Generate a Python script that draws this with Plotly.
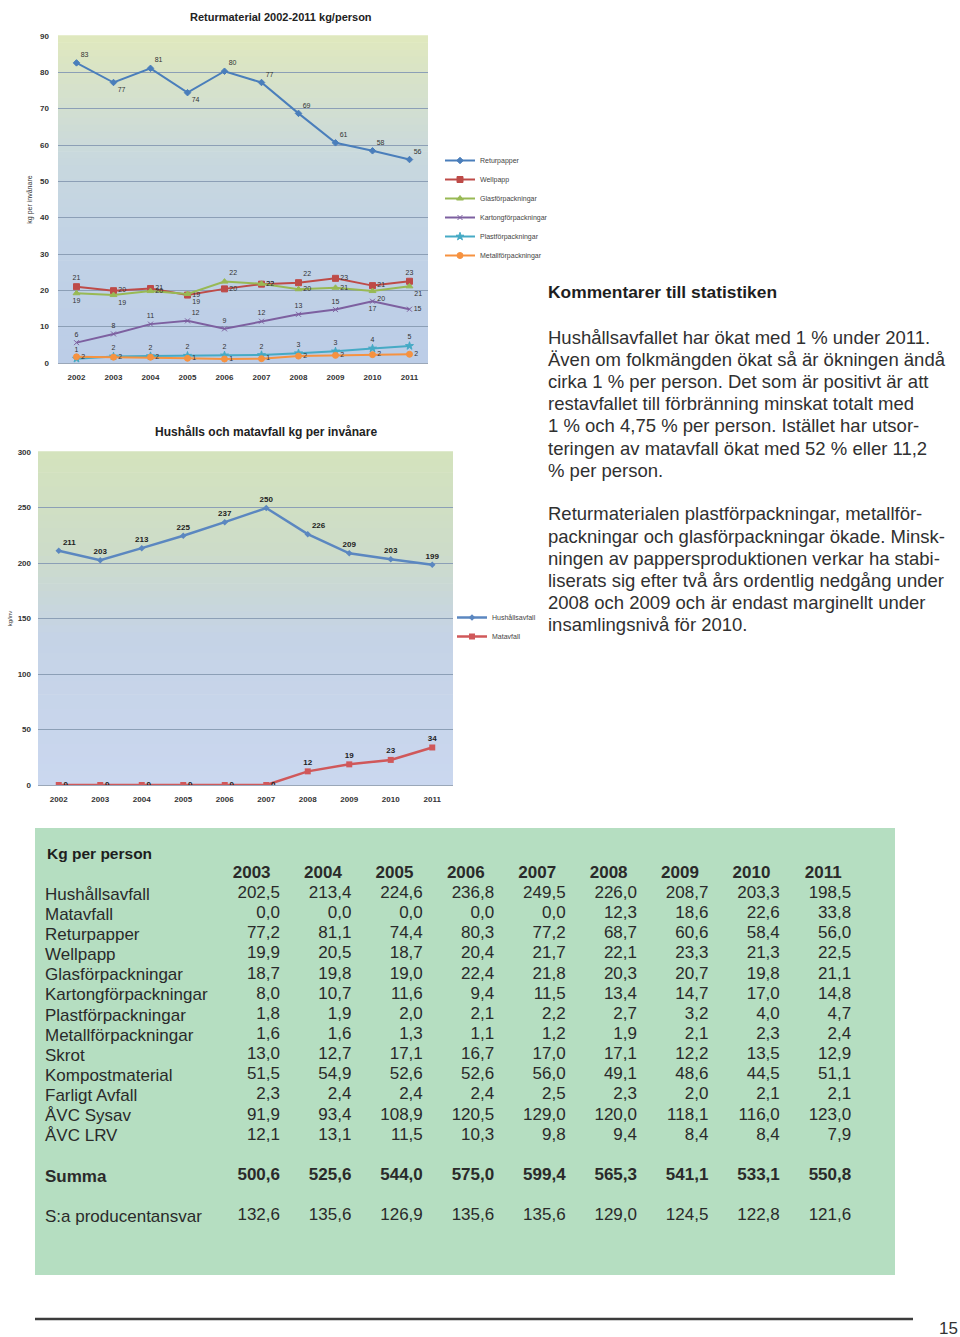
import plotly.graph_objects as go

# ---------------- data ----------------
years = ["2002", "2003", "2004", "2005", "2006", "2007", "2008", "2009", "2010", "2011"]
table_years = ["2003", "2004", "2005", "2006", "2007", "2008", "2009", "2010", "2011"]

t_hushall = [202.5, 213.4, 224.6, 236.8, 249.5, 226.0, 208.7, 203.3, 198.5]
t_matavfall = [0.0, 0.0, 0.0, 0.0, 0.0, 12.3, 18.6, 22.6, 33.8]
t_returpapper = [77.2, 81.1, 74.4, 80.3, 77.2, 68.7, 60.6, 58.4, 56.0]
t_wellpapp = [19.9, 20.5, 18.7, 20.4, 21.7, 22.1, 23.3, 21.3, 22.5]
t_glas = [18.7, 19.8, 19.0, 22.4, 21.8, 20.3, 20.7, 19.8, 21.1]
t_kartong = [8.0, 10.7, 11.6, 9.4, 11.5, 13.4, 14.7, 17.0, 14.8]
t_plast = [1.8, 1.9, 2.0, 2.1, 2.2, 2.7, 3.2, 4.0, 4.7]
t_metall = [1.6, 1.6, 1.3, 1.1, 1.2, 1.9, 2.1, 2.3, 2.4]
t_skrot = [13.0, 12.7, 17.1, 16.7, 17.0, 17.1, 12.2, 13.5, 12.9]
t_kompost = [51.5, 54.9, 52.6, 52.6, 56.0, 49.1, 48.6, 44.5, 51.1]
t_farligt = [2.3, 2.4, 2.4, 2.4, 2.5, 2.3, 2.0, 2.1, 2.1]
t_avc_sysav = [91.9, 93.4, 108.9, 120.5, 129.0, 120.0, 118.1, 116.0, 123.0]
t_avc_lrv = [12.1, 13.1, 11.5, 10.3, 9.8, 9.4, 8.4, 8.4, 7.9]
t_summa = [500.6, 525.6, 544.0, 575.0, 599.4, 565.3, 541.1, 533.1, 550.8]
t_producent = [132.6, 135.6, 126.9, 135.6, 135.6, 129.0, 124.5, 122.8, 121.6]

row_labels = ["Hushållsavfall", "Matavfall", "Returpapper", "Wellpapp", "Glasförpackningar",
              "Kartongförpackningar", "Plastförpackningar", "Metallförpackningar", "Skrot",
              "Kompostmaterial", "Farligt Avfall", "ÅVC Sysav", "ÅVC LRV"]
row_values = [t_hushall, t_matavfall, t_returpapper, t_wellpapp, t_glas, t_kartong, t_plast,
              t_metall, t_skrot, t_kompost, t_farligt, t_avc_sysav, t_avc_lrv]

# chart series (2002 value, rest from the table)
returpapper = [82.6] + t_returpapper
wellpapp = [21.0] + t_wellpapp
glas = [19.2] + t_glas
kartong = [5.6] + t_kartong
plast = [1.2] + t_plast
metall = [1.7] + t_metall
hushall = [211.0] + t_hushall
matavfall = [0.0] + t_matavfall

comment_title = "Kommentarer till statistiken"
comment_lines_1 = [
    "Hushållsavfallet har ökat med 1 % under 2011.",
    "Även om folkmängden ökat så är ökningen ändå",
    "cirka 1 % per person. Det som är positivt är att",
    "restavfallet till förbränning minskat totalt med",
    "1 % och 4,75 % per person. Istället har utsor-",
    "teringen av matavfall ökat med 52 % eller 11,2",
    "% per person.",
]
comment_lines_2 = [
    "Returmaterialen plastförpackningar, metallför-",
    "packningar och glasförpackningar ökade. Minsk-",
    "ningen av pappersproduktionen verkar ha stabi-",
    "liserats sig efter två års ordentlig nedgång under",
    "2008 och 2009 och är endast marginellt under",
    "insamlingsnivå för 2010.",
]

# ---------------- helpers ----------------
W, H = 960, 1337
def px(x):
    return x / W
def py(y):
    return 1 - y / H

def fmt(v):
    return f"{v:.1f}".replace(".", ",")

def lerp(c1, c2, t):
    a = [int(c1[i:i + 2], 16) for i in (1, 3, 5)]
    b = [int(c2[i:i + 2], 16) for i in (1, 3, 5)]
    return "rgb(%d,%d,%d)" % tuple(round(a[k] + (b[k] - a[k]) * t) for k in range(3))

def gradient(stops, t):
    for i in range(len(stops) - 1):
        t0, c0 = stops[i]
        t1, c1 = stops[i + 1]
        if t0 <= t <= t1:
            return lerp(c0, c1, (t - t0) / (t1 - t0))
    return lerp(stops[-1][1], stops[-1][1], 0)

FONT = "Liberation Sans, Arial, sans-serif"
fig = go.Figure()

# ---------------- chart 1: Returmaterial ----------------
lab_font1 = dict(size=7, color="#333333", family=FONT)
series1 = [
    ("Returpapper", returpapper, "#4a7ebb", "diamond", 5,
     ["top right", "bottom right", "top right", "bottom right", "top right", "top right",
      "top right", "top right", "top right", "top right"]),
    ("Wellpapp", wellpapp, "#be4b48", "square", 6,
     ["top center", "middle right", "middle right", "middle right", "middle right", "middle right",
      "top right", "middle right", "middle right", "top center"]),
    ("Glasförpackningar", glas, "#98b954", "triangle-up", 6,
     ["bottom center", "bottom right", "middle right", "bottom right", "top right", "middle right",
      "middle right", "middle right", "bottom right", "bottom right"]),
    ("Kartongförpackningar", kartong, "#7d60a0", "x-thin-open", 5,
     ["top center", "top center", "top center", "top right", "top center", "top center",
      "top center", "top center", "bottom center", "middle right"]),
    ("Plastförpackningar", plast, "#46aac5", "star", 6,
     ["top center"] * 10),
    ("Metallförpackningar", metall, "#f69240", "circle", 6,
     ["middle right"] * 10),
]
for name, vals, col, sym, msz, pos in series1:
    fig.add_trace(go.Scatter(
        x=years, y=vals, name=name, mode="lines+markers+text",
        line=dict(color=col, width=2), marker=dict(symbol=sym, size=msz, color=col,
                                                   line=dict(color=col, width=1)),
        texttemplate="%{y:.0f}", textposition=pos, textfont=lab_font1,
        xaxis="x", yaxis="y", legend="legend", hoverinfo="x+y+name"))

# ---------------- chart 2: Hushålls och matavfall ----------------
lab_font2 = dict(size=8, color="#222222", family=FONT, weight="bold")
fig.add_trace(go.Scatter(
    x=years, y=hushall, name="Hushållsavfall", mode="lines+markers+text",
    line=dict(color="#5b87c0", width=2.5), marker=dict(symbol="diamond", size=5, color="#5b87c0"),
    texttemplate="%{y:.0f}",
    textposition=["top right", "top center", "top center", "top center", "top center",
                  "top center", "top right", "top center", "top center", "top center"],
    textfont=lab_font2, xaxis="x2", yaxis="y2", legend="legend2"))
fig.add_trace(go.Scatter(
    x=years, y=matavfall, name="Matavfall", mode="lines+markers+text",
    line=dict(color="#d0585a", width=2.5), marker=dict(symbol="square", size=6, color="#d0585a"),
    texttemplate="%{y:.0f}",
    textposition=["middle right"] * 6 + ["top center"] * 4,
    textfont=lab_font2, xaxis="x2", yaxis="y2", legend="legend2"))

# ---------------- table (text on its own axes: columns = years, rows = categories) ----------------
HEADER_ROW, FIRST_ROW, SUMMA_ROW, PROD_ROW = 1, 2, 16, 18
cell_x, cell_y, cell_t = [], [], []
for j, yr in enumerate(table_years):
    cell_x.append(yr); cell_y.append(HEADER_ROW); cell_t.append("<b>" + yr + "\u2007</b>")
    for i, row in enumerate(row_values):
        cell_x.append(yr); cell_y.append(FIRST_ROW + i); cell_t.append(fmt(row[j]))
    cell_x.append(yr); cell_y.append(SUMMA_ROW); cell_t.append("<b>" + fmt(t_summa[j]) + "</b>")
    cell_x.append(yr); cell_y.append(PROD_ROW); cell_t.append(fmt(t_producent[j]))
fig.add_trace(go.Scatter(
    x=cell_x, y=cell_y, text=cell_t, mode="text", textposition="middle left",
    textfont=dict(family=FONT, size=17, color="#2a2a2a"),
    xaxis="x3", yaxis="y3", showlegend=False, hoverinfo="skip"))

row_tickvals = [FIRST_ROW + i for i in range(len(row_labels))] + [SUMMA_ROW, PROD_ROW]
row_ticktext = row_labels + ["<b>Summa</b>", "S:a producentansvar"]

# ---------------- shapes ----------------
shapes = []
stops1 = [(0.0, "#bccde7"), (0.35, "#c1d2e6"), (0.62, "#c8d8de"), (1.0, "#e0e8bd")]
stops2 = [(0.0, "#cad7ef"), (0.45, "#c5d3e6"), (0.7, "#cddcc9"), (1.0, "#d4e3bd")]
N = 48
for axn, stops in (("", stops1), ("2", stops2)):
    for i in range(N):
        t = (i + 0.5) / N
        shapes.append(dict(type="rect", xref="x%s domain" % axn, yref="y%s domain" % axn,
                           x0=0, x1=1, y0=i / N, y1=(i + 1) / N + 0.002,
                           fillcolor=gradient(stops, t), line=dict(width=0), layer="below"))
shapes.append(dict(type="rect", xref="paper", yref="paper", x0=px(35), x1=px(895),
                   y0=py(1275), y1=py(828), fillcolor="#b5dec1", line=dict(width=0), layer="below"))
shapes.append(dict(type="line", xref="paper", yref="paper", x0=px(35), x1=px(913),
                   y0=py(1319), y1=py(1319), line=dict(color="#3c3c3c", width=2.5)))

# ---------------- annotations ----------------
ann = []
ann.append(dict(text="<b>Returmaterial 2002-2011 kg/person</b>", x=px(281), y=py(17),
                xref="paper", yref="paper", showarrow=False, xanchor="center", yanchor="middle",
                font=dict(family=FONT, size=11, color="#222222")))
ann.append(dict(text="<b>Hushålls och matavfall kg per invånare</b>", x=px(266), y=py(432),
                xref="paper", yref="paper", showarrow=False, xanchor="center", yanchor="middle",
                font=dict(family=FONT, size=12, color="#222222")))
ann.append(dict(text="<b>Kg per person</b>", x=px(45), y=py(853), xref="paper", yref="paper",
                showarrow=False, xanchor="left", yanchor="middle",
                font=dict(family=FONT, size=15.5, color="#1e1e1e")))
ann.append(dict(text="<b>" + comment_title + "</b>", x=px(546), y=py(292), xref="paper", yref="paper",
                showarrow=False, xanchor="left", yanchor="middle",
                font=dict(family=FONT, size=17.4, color="#1e1e1e")))
for k, line in enumerate(comment_lines_1):
    ann.append(dict(text=line, x=px(546), y=py(337 + 22.2 * k), xref="paper", yref="paper",
                    showarrow=False, xanchor="left", yanchor="middle",
                    font=dict(family=FONT, size=18.5, color="#303030")))
for k, line in enumerate(comment_lines_2):
    ann.append(dict(text=line, x=px(546), y=py(514 + 22.2 * k), xref="paper", yref="paper",
                    showarrow=False, xanchor="left", yanchor="middle",
                    font=dict(family=FONT, size=18.5, color="#303030")))
ann.append(dict(text="15", x=px(948), y=py(1328), xref="paper", yref="paper", showarrow=False,
                xanchor="center", yanchor="middle",
                font=dict(family=FONT, size=17, color="#333333")))

# table axes geometry: box 35..895 px wide, 828..1275 px tall
COL_PITCH = 71.4          # px between year columns
FIRST_COL_RIGHT = 280.0   # px, right edge of first value column
ROW_PITCH = 20.15         # px between rows
HEADER_Y = 873.5          # px, centre of the year header row
bx0, bx1, by0, by1 = 35.0, 895.0, 828.0, 1275.0
xr0 = -(FIRST_COL_RIGHT - bx0) / COL_PITCH
xr1 = xr0 + (bx1 - bx0) / COL_PITCH
yr_top = HEADER_ROW - (HEADER_Y - by0) / ROW_PITCH
yr_bot = yr_top + (by1 - by0) / ROW_PITCH

tick_font = dict(family=FONT, size=8, color="#333333", weight="bold")
fig.update_layout(
    width=W, height=H, margin=dict(l=0, r=0, t=0, b=0),
    paper_bgcolor="white", plot_bgcolor="rgba(0,0,0,0)",
    showlegend=True,
    xaxis=dict(domain=[px(58), px(428)], anchor="y", type="category", range=[-0.5, 9.5],
               showgrid=False, showline=True, linecolor="#9aa7b8", ticks="",
               tickfont=tick_font, ticklabelstandoff=6),
    yaxis=dict(domain=[py(363), py(36)], anchor="x", range=[0, 90], dtick=10,
               showgrid=True, gridcolor="#8c9fb6", gridwidth=1, zeroline=False, ticks="",
               tickfont=tick_font, ticklabelstandoff=8, automargin=False,
               title=dict(text="kg per invånare", font=dict(family=FONT, size=7, color="#333333"),
                          standoff=6)),
    xaxis2=dict(domain=[px(38), px(453)], anchor="y2", type="category", range=[-0.5, 9.5],
                showgrid=False, showline=True, linecolor="#9aa7b8", ticks="",
                tickfont=tick_font, ticklabelstandoff=6),
    yaxis2=dict(domain=[py(785), py(452)], anchor="x2", range=[0, 300], dtick=50,
                showgrid=True, gridcolor="#8c9fb6", gridwidth=1, zeroline=False, ticks="",
                tickfont=tick_font, ticklabelstandoff=6, automargin=False,
                title=dict(text="kg/inv", font=dict(family=FONT, size=6, color="#333333"),
                           standoff=4)),
    xaxis3=dict(domain=[px(bx0), px(bx1)], anchor="y3", type="category",
                categoryorder="array", categoryarray=table_years, range=[xr0, xr1],
                showgrid=False, zeroline=False, showline=False, showticklabels=False, ticks=""),
    yaxis3=dict(domain=[py(by1), py(by0)], anchor="x3", range=[yr_bot, yr_top],
                showgrid=False, zeroline=False, showline=False, ticks="",
                tickmode="array", tickvals=row_tickvals, ticktext=row_ticktext,
                ticklabelposition="inside", ticklabelstandoff=7, automargin=False,
                tickfont=dict(family=FONT, size=17, color="#2a2a2a")),
    legend=dict(x=px(440), y=py(146), xanchor="left", yanchor="top",
                bgcolor="rgba(0,0,0,0)", font=dict(family=FONT, size=7, color="#444444"),
                itemwidth=30, tracegroupgap=0),
    legend2=dict(x=px(452), y=py(603), xanchor="left", yanchor="top",
                 bgcolor="rgba(0,0,0,0)", font=dict(family=FONT, size=7, color="#444444"),
                 itemwidth=30, tracegroupgap=0),
    shapes=shapes, annotations=ann,
)

fig.write_html("out.html", config={"displayModeBar": False},
               post_script="document.body.style.margin='0px';")
